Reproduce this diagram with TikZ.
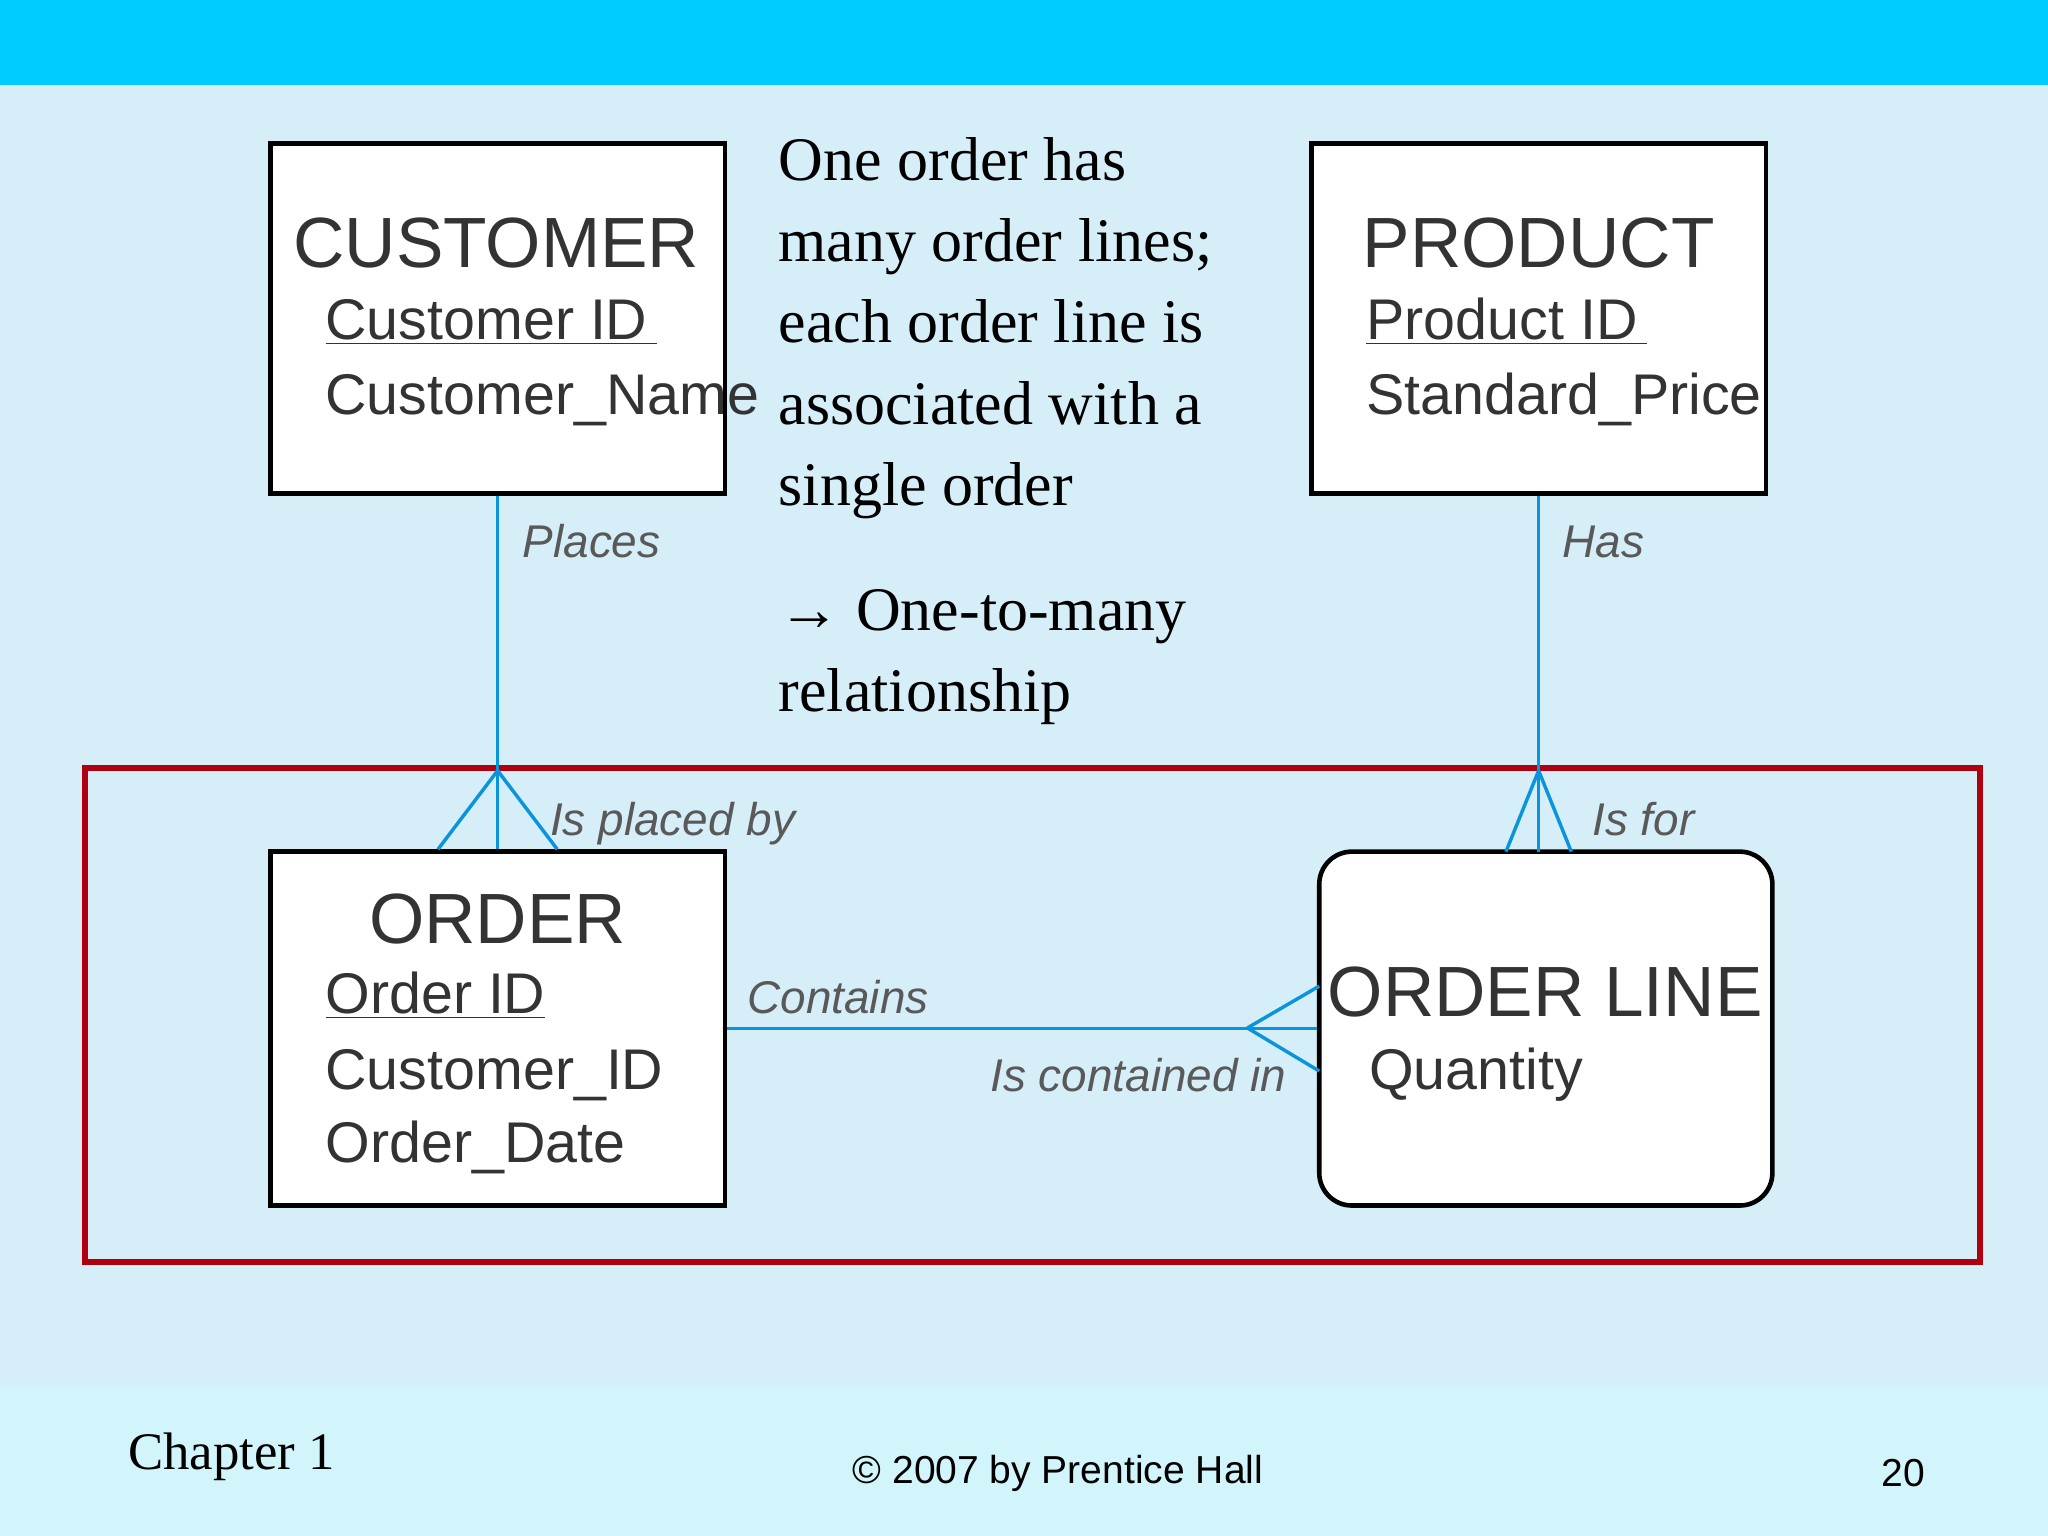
\documentclass[tikz,border=0pt]{standalone}
\usepackage{fontspec}
\setmainfont{Liberation Serif}
\newfontfamily\sansf{Liberation Sans}
\begin{document}
\begin{tikzpicture}[x=0.02cm,y=-0.02cm,
  ent/.style={draw=black,line width=2pt,fill=white,minimum width=6.96cm,minimum height=5.4cm,inner sep=0},
  title/.style={font=\sansf\fontsize{31}{31}\selectfont,text=black!80,anchor=base},
  attr/.style={font=\sansf\fontsize{25}{25}\selectfont,text=black!80,anchor=base west},
  lab/.style={font=\sansf\itshape\fontsize{20}{20}\selectfont,text=black!65,anchor=base west},
  rel/.style={draw=cyan!80!blue,line width=1.5pt},
  body/.style={font=\fontsize{27}{27}\selectfont,anchor=base west}]
\definecolor{bg}{HTML}{D6EEF8}
\definecolor{bar}{HTML}{00CCFF}
\definecolor{foot}{HTML}{D2F5FC}
\definecolor{redb}{HTML}{B00010}
\useasboundingbox (0,0) rectangle (1568,1176);
\fill[bg] (0,0) rectangle (1568,1176);
\fill[bar] (0,0) rectangle (1568,65);
\fill[foot] (0,1060) rectangle (1568,1176);
\draw[redb,line width=2.5pt] (65,588) rectangle (1516,966);
% entities
\node[ent,minimum height=5.36cm] (cust) at (381,244) {};
\node[ent,minimum height=5.36cm] (prod) at (1178,244) {};
\node[ent,minimum height=5.42cm] (ord) at (381,787.5) {};
\node[ent,rounded corners=0.5cm,minimum width=6.94cm,minimum height=5.42cm] (ol) at (1183.5,787.5) {};
\node[title] (t1) at (380,205) {CUSTOMER};
\node[attr] (a1) at (243,260) {\underline{Customer ID\,}};
\node[attr] (a2) at (243,317) {Customer\_Name};
\node[title] (t2) at (1178,205) {PRODUCT};
\node[attr] (a3) at (1040,260) {\underline{Product ID\,}};
\node[attr] (a4) at (1040,317) {Standard\_Price};
\node[title] (t3) at (381,722) {ORDER};
\node[attr] (a5) at (243,776) {\underline{Order ID}};
\node[attr] (a6) at (243,834) {Customer\_ID};
\node[attr] (a7) at (243,890) {Order\_Date};
\node[title] (t4) at (1183,778) {ORDER LINE};
\node[attr] (a8) at (1042,834) {Quantity};
% connectors
\coordinate (c1) at (381,590);
\coordinate (c2) at (1178,590);
\coordinate (c3) at (955,787);
\draw[rel] (cust.south) -- (ord.north);
\draw[rel] (c1) -- ([xshift=-26]ord.north) (c1) -- ([xshift=26]ord.north);
\draw[rel] (prod.south) -- (1178,652);
\draw[rel] (c2) -- (1153,652) (c2) -- (1203,652);
\draw[rel] (ord.east) -- (ol.west);
\draw[rel] (c3) -- (1010,755) (c3) -- (1010,820);
\node[lab] (l1) at (394,427) {Places};
\node[lab] (l2) at (1190,427) {Has};
\node[lab] (l3) at (415,640) {Is placed by};
\node[lab] (l4) at (1213,640) {Is for};
\node[lab] (l5) at (566,776) {Contains};
\node[lab] (l6) at (752,836) {Is contained in};
% text
\node[body] (b1) at (590,138) {One order has};
\node[body] (b2) at (590,200) {many order lines;};
\node[body] (b3) at (590,262) {each order line is};
\node[body] (b4) at (590,325) {associated with a};
\node[body] (b5) at (590,387) {single order};
\node[body] (b6) at (590,483) {\textbf{→} One-to-many};
\node[body] (b7) at (590,545) {relationship};
\node[font=\fontsize{23}{23}\selectfont,anchor=base west] (f1) at (92,1125) {Chapter 1};
\node[font=\sansf\fontsize{17}{17}\selectfont,anchor=base] (f2) at (810,1136) {© 2007 by Prentice Hall};
\node[font=\sansf\fontsize{17}{17}\selectfont,anchor=base] (f3) at (1457,1138) {20};
\end{tikzpicture}
\end{document}
